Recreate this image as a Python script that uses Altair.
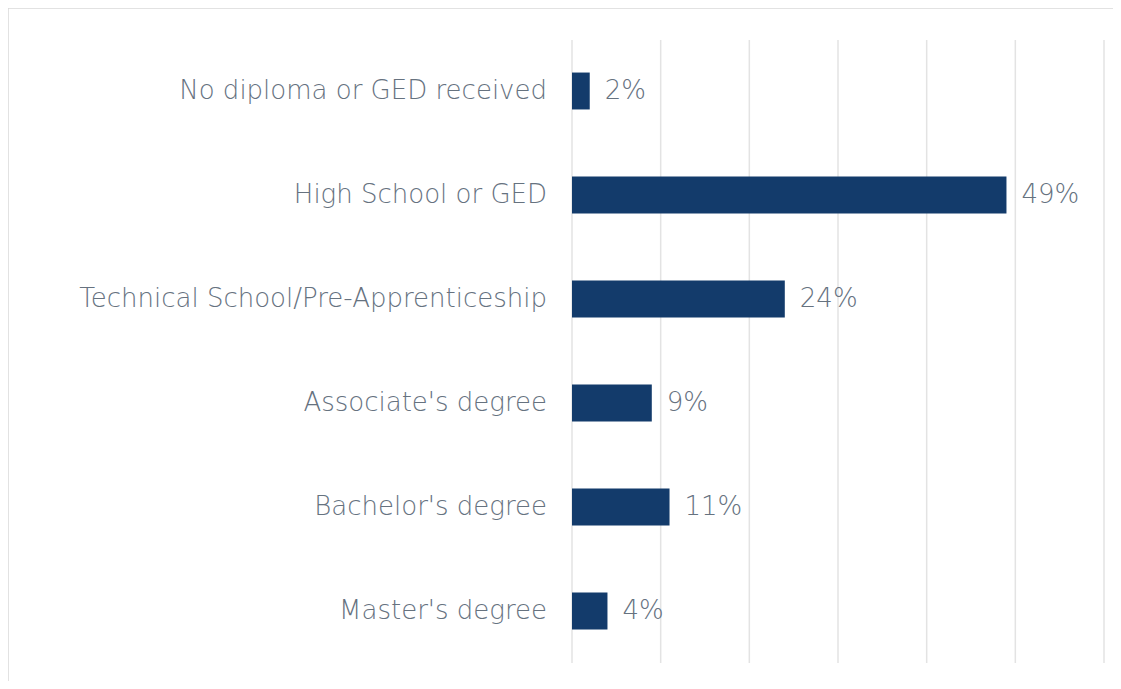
import altair as alt
import pandas as pd

categories = [
    "No diploma or GED received",
    "High School or GED",
    "Technical School/Pre-Apprenticeship",
    "Associate's degree",
    "Bachelor's degree",
    "Master's degree",
]
values = [2, 49, 24, 9, 11, 4]
grid_ticks = [0, 10, 20, 30, 40, 50, 60]

df = pd.DataFrame({"cat": categories, "val": values,
                   "label": [f"{v}%" for v in values]})
grid_df = pd.DataFrame({"g": grid_ticks})
frame_df = pd.DataFrame({"k": [0]})

FONT = "DejaVu Sans"
WEIGHT = 200
TXT = "#66727f"
BAR = "#133b6b"
W, H = 1105, 673

xscale = alt.Scale(domain=[0, 60], range=[564, 1096], nice=False, zero=True)
yscale = alt.Scale(domain=categories, range=[31, 655], paddingInner=0.645, paddingOuter=0.3225)

top_border = alt.Chart(frame_df).mark_rule(color="#d9d9d9", strokeWidth=1.5).encode(
    x=alt.value(0), x2=alt.value(W + 10), y=alt.value(0))
left_border = alt.Chart(frame_df).mark_rule(color="#d9d9d9", strokeWidth=1.5).encode(
    x=alt.value(0), y=alt.value(0), y2=alt.value(H + 10))

grid = alt.Chart(grid_df).mark_rule(color="#e3e3e3", strokeWidth=1.5).encode(
    x=alt.X("g:Q", scale=xscale, axis=None),
    y=alt.value(32),
    y2=alt.value(655),
)

bars = alt.Chart(df).mark_bar(color=BAR).encode(
    x=alt.X("val:Q", scale=xscale, axis=None),
    y=alt.Y("cat:N", scale=yscale, axis=None, sort=categories),
)

vals = alt.Chart(df).mark_text(align="left", baseline="middle", dx=15, font=FONT,
                               fontSize=26, fontWeight=WEIGHT, color=TXT).encode(
    x=alt.X("val:Q", scale=xscale, axis=None),
    y=alt.Y("cat:N", scale=yscale, axis=None, sort=categories),
    text="label:N",
)

cats = alt.Chart(df).mark_text(align="right", baseline="middle", dx=-25, font=FONT,
                               fontSize=26, fontWeight=WEIGHT, color=TXT).encode(
    x=alt.X("zero:Q", scale=xscale, axis=None),
    y=alt.Y("cat:N", scale=yscale, axis=None, sort=categories),
    text="cat:N",
).transform_calculate(zero="0")

chart = alt.layer(top_border, left_border, grid, bars, vals, cats).properties(
    width=W, height=H, padding=0, autosize=alt.AutoSizeParams(type="none"),
    background="white",
).configure_view(stroke=None)

chart.save("out.html", embed_options={"renderer": "svg", "actions": False})
